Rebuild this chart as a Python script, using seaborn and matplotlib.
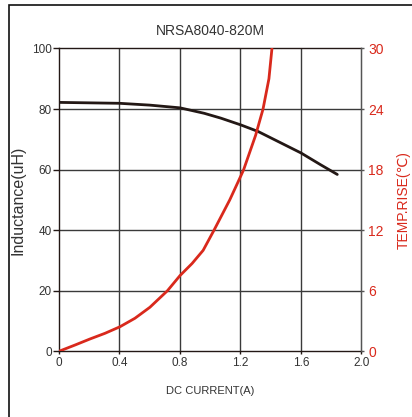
import matplotlib
matplotlib.use("Agg")
import matplotlib.pyplot as plt
import seaborn as sns
from matplotlib.patches import Rectangle

# Inductance curve (left axis)
ind_current = [0.0, 0.4, 0.6, 0.8, 0.96, 1.07, 1.2, 1.316, 1.404, 1.6, 1.73, 1.84]
ind_uh = [82.2, 81.9, 81.3, 80.4, 78.6, 77.0, 74.8, 72.6, 70.4, 65.5, 61.6, 58.4]

# Temperature rise curve (right axis)
temp_current = [0.0, 0.106, 0.205, 0.304, 0.403, 0.502, 0.601, 0.717, 0.8, 0.88, 0.953,
                1.025, 1.129, 1.2, 1.221, 1.30, 1.349, 1.388, 1.408]
temp_rise = [0.0, 0.62, 1.22, 1.78, 2.43, 3.27, 4.36, 6.0, 7.5, 8.7, 10.0,
             12.0, 15.0, 17.3, 18.0, 21.4, 24.0, 27.0, 30.0]

x_ticks = [0, 0.4, 0.8, 1.2, 1.6, 2.0]
x_labels = ["0", "0.4", "0.8", "1.2", "1.6", "2.0"]
left_ticks = [0, 20, 40, 60, 80, 100]
right_ticks = [0, 6, 12, 18, 24, 30]

RED = "#d9291c"
DARK = "#231815"
GRID = "#3a3a3a"


def main():
    sns.set_style("white")
    plt.rcParams["font.family"] = ["Liberation Sans", "DejaVu Sans"]

    fig = plt.figure(figsize=(4.12, 4.17), dpi=100)
    ax = fig.add_axes([0.1432, 0.1576, 0.7342, 0.7261])
    ax2 = ax.twinx()

    # outer frame of the datasheet box
    fig.patches.append(Rectangle((9 / 412, -0.1), 1.2, 1.1 - 5 / 417,
                                 transform=fig.transFigure, fill=False,
                                 edgecolor="#111111", linewidth=1.2, zorder=0))

    for x in x_ticks[1:-1]:
        ax.axvline(x, color=GRID, lw=1.0, zorder=1)
    for y in left_ticks[1:-1]:
        ax.axhline(y, color=GRID, lw=1.0, zorder=1)

    sns.lineplot(x=ind_current, y=ind_uh, ax=ax, color=DARK, lw=2.0, zorder=3)
    sns.lineplot(x=temp_current, y=temp_rise, ax=ax2, color=RED, lw=2.0, zorder=3)

    ax.set_xlim(0, 2.0)
    ax.set_ylim(0, 100)
    ax2.set_ylim(0, 30)
    ax.set_xticks(x_ticks)
    ax.set_xticklabels(x_labels)
    ax.set_yticks(left_ticks)
    ax2.set_yticks(right_ticks)

    for s in ["left", "bottom", "top"]:
        ax.spines[s].set_color(DARK)
        ax.spines[s].set_linewidth(1.0)
    ax2.spines["right"].set_color("#555555")
    ax2.spines["right"].set_linewidth(1.0)
    for s in ["left", "bottom", "top"]:
        ax2.spines[s].set_visible(False)

    ax.tick_params(axis="y", left=True, length=4, width=1, color=DARK,
                   labelsize=8.5, labelcolor="#333333", pad=1)
    ax.tick_params(axis="x", bottom=True, length=2, width=1, color=DARK,
                   labelsize=8.5, labelcolor="#333333", pad=2)
    ax2.tick_params(axis="y", right=True, length=2, width=1, color="#555555",
                    labelsize=10, labelcolor=RED, pad=3)

    ax.set_xlabel("DC CURRENT(A)", fontsize=8, color="#333333", labelpad=12)
    ax.set_ylabel("Inductance(uH)", fontsize=11.5, color="#333333")
    ax.yaxis.set_label_coords(-0.11, 0.5)
    ax2.set_ylabel("TEMP.RISE(\u2103)", fontsize=10, color=RED,
                   family=["Liberation Sans", "DejaVu Sans"])
    ax2.yaxis.set_label_coords(1.117, 0.5)
    ax.set_title("NRSA8040-820M", fontsize=10, color="#333333", pad=10)

    fig.savefig("out.png", dpi=100)


if __name__ == "__main__":
    main()
